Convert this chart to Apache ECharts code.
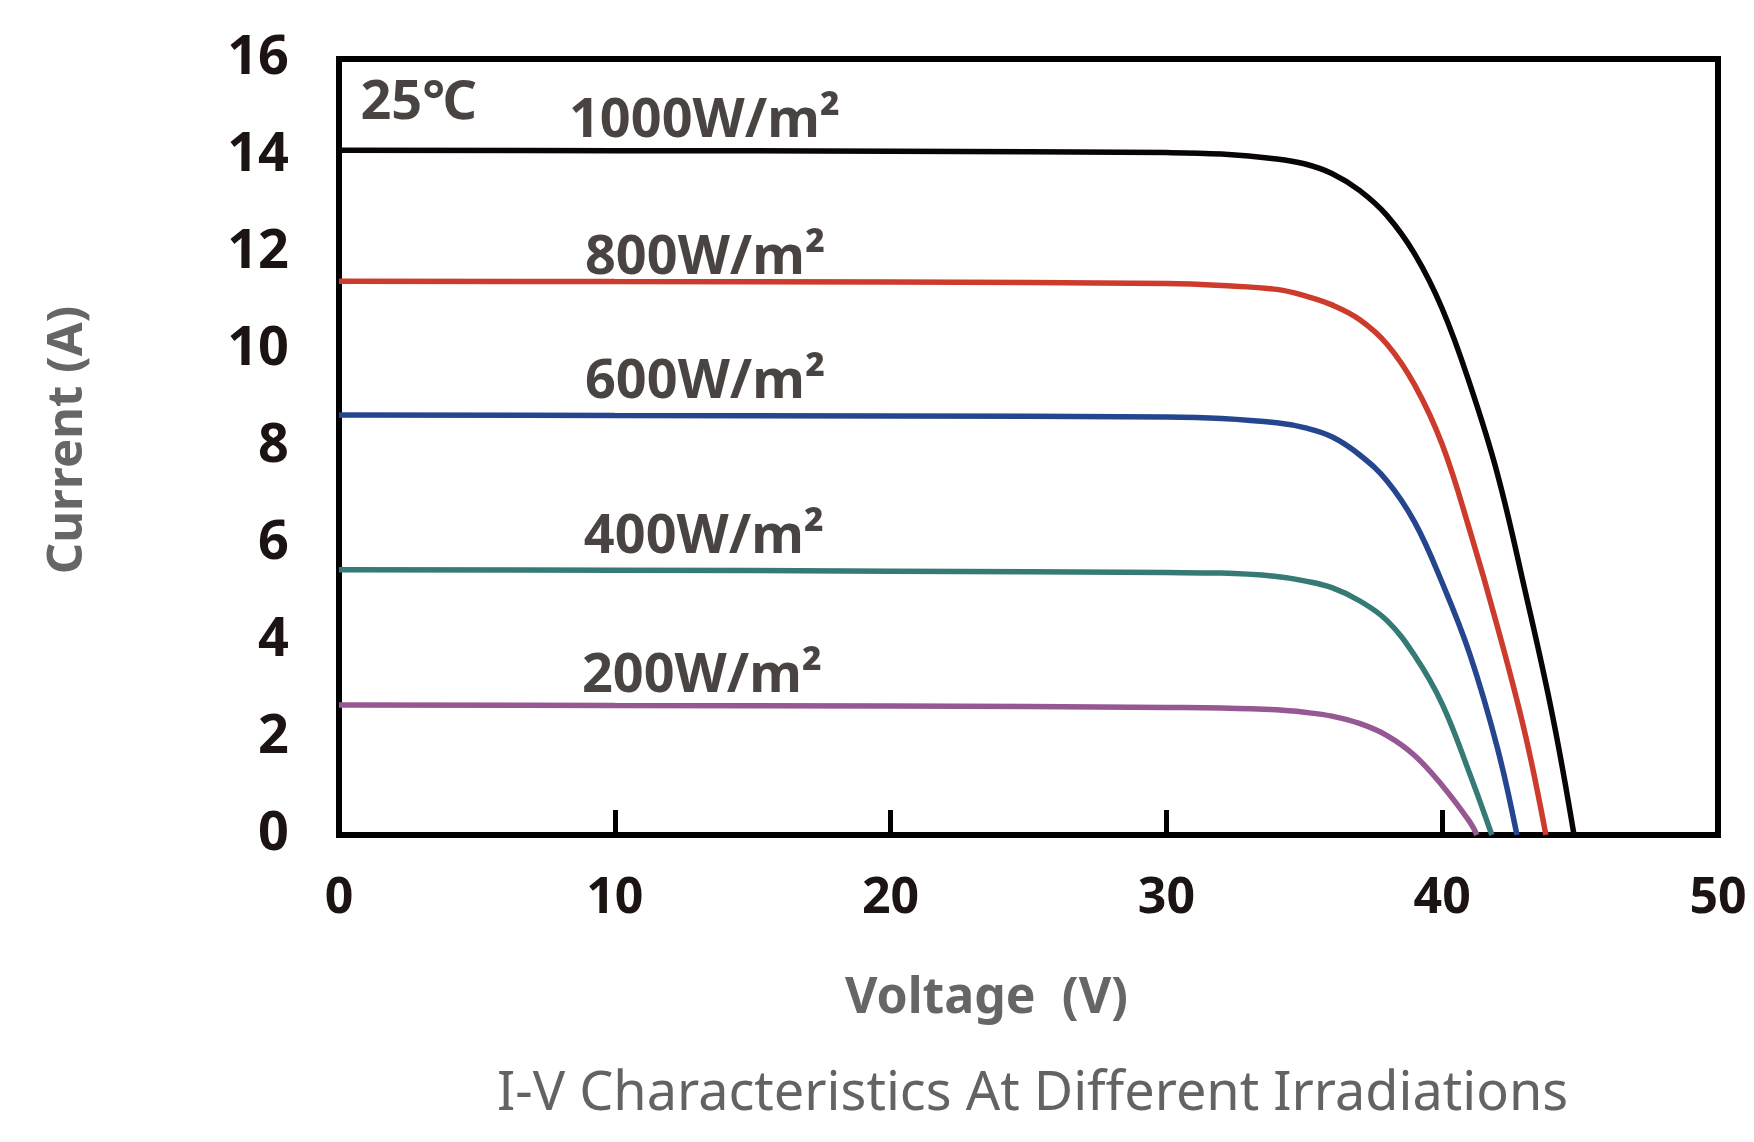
<!DOCTYPE html>
<html><head><meta charset="utf-8">
<script src="https://cdn.jsdelivr.net/npm/echarts@6/dist/echarts.min.js"></script>
<style>html,body{margin:0;padding:0;background:#fff}#c{width:1754px;height:1142px}</style>
</head><body><div id="c"></div>
<script>
// Axis ranges / ticks
const xMin = 0, xMax = 50, xStep = 10;
const yMin = 0, yMax = 16, yStep = 2;

// Series: voltage (V) and current (A)
const v1000 = [0, 10, 20, 30, 32, 34, 35, 36, 37, 38, 39, 40, 41, 42, 43, 44, 44.78];
const i1000 = [14.12, 14.11, 14.10, 14.07, 14.04, 13.94, 13.84, 13.64, 13.29, 12.77, 11.98, 10.85, 9.30, 7.45, 5.05, 2.46, 0];

const v800 = [0, 10, 20, 30, 32, 34, 35, 36, 37, 38, 39, 40, 41, 42, 43, 43.76];
const i800 = [11.42, 11.41, 11.40, 11.37, 11.33, 11.25, 11.12, 10.93, 10.63, 10.12, 9.28, 8.05, 6.28, 4.30, 2.10, 0];

const v600 = [0, 10, 20, 30, 32, 34, 35, 36, 37, 38, 39, 40, 41, 42, 42.71];
const i600 = [8.66, 8.65, 8.64, 8.62, 8.59, 8.50, 8.40, 8.21, 7.84, 7.30, 6.45, 5.20, 3.73, 1.80, 0];

const v400 = [0, 10, 20, 30, 32, 34, 35, 36, 37, 38, 39, 40, 41, 41.8];
const i400 = [5.47, 5.46, 5.44, 5.41, 5.40, 5.33, 5.24, 5.10, 4.83, 4.42, 3.70, 2.70, 1.26, 0];

const v200 = [0, 10, 20, 30, 32, 34, 35, 36, 37, 38, 39, 40, 41, 41.26];
const i200 = [2.68, 2.67, 2.66, 2.63, 2.62, 2.58, 2.53, 2.45, 2.30, 2.05, 1.64, 1.02, 0.27, 0];

// Annotations
const labelText = ['25℃', '1000W/m²', '800W/m²', '600W/m²', '400W/m²', '200W/m²'];
const labelV = [0.76, 8.32, 8.90, 8.90, 8.86, 8.79];
const labelI = [15.08, 14.71, 11.88, 9.32, 6.14, 3.26];

const seriesNames = ['1000W/m²', '800W/m²', '600W/m²', '400W/m²', '200W/m²'];
const seriesColors = ['#0a0505', '#cc3b2c', '#25468f', '#367a75', '#955893'];
const vs = [v1000, v800, v600, v400, v200];
const is = [i1000, i800, i600, i400, i200];

const zip = (a, b) => a.map((x, k) => [x, b[k]]);

const lineSeries = seriesNames.map((n, k) => ({
  name: n,
  type: 'line',
  data: zip(vs[k], is[k]),
  showSymbol: false,
  symbol: 'none',
  smooth: 0.4,
  lineStyle: { color: seriesColors[k], width: 5.5 },
  z: 3
}));

const labelSeries = {
  type: 'scatter',
  symbolSize: 1,
  itemStyle: { color: 'rgba(0,0,0,0)' },
  data: labelText.map((t, k) => ({ name: t, value: [labelV[k], labelI[k]] })),
  label: {
    show: true,
    position: 'right',
    distance: 0,
    formatter: p => p.name,
    color: '#1c1412',
    fontFamily: "'Noto Sans', 'Noto Sans CJK SC', sans-serif",
    fontWeight: 'bold',
    fontSize: 54
  },
  silent: true,
  z: 5
};

const chart = echarts.init(document.getElementById('c'), null, { renderer: 'canvas' });
chart.setOption({
  backgroundColor: '#ffffff',
  animation: false,
  title: {
    text: 'I-V Characteristics At Different Irradiations',
    left: 492,
    top: 1063,
    textStyle: {
      fontFamily: "'Noto Sans', sans-serif",
      fontWeight: 'normal',
      fontSize: 54,
      color: '#636363'
    }
  },
  grid: {
    left: 339, right: 36, top: 59, bottom: 307,
    show: true, borderColor: '#000', borderWidth: 6, backgroundColor: 'transparent'
  },
  xAxis: {
    type: 'value', min: xMin, max: xMax, interval: xStep,
    name: 'Voltage  (V)', nameLocation: 'middle', nameGap: 139,
    nameTextStyle: {
      fontFamily: "'Noto Sans', sans-serif", fontWeight: 'bold', fontSize: 50,
      color: '#666666', padding: [0, 84, 0, 0]
    },
    axisLine: { show: true, onZero: false, lineStyle: { color: '#000', width: 6 } },
    axisTick: { show: true, inside: true, length: 25, lineStyle: { color: '#000', width: 5 } },
    splitLine: { show: false },
    axisLabel: {
      margin: 39, color: '#1c1412', fontWeight: 'bold', fontSize: 50,
      fontFamily: "'Noto Sans', sans-serif"
    }
  },
  yAxis: {
    type: 'value', min: yMin, max: yMax, interval: yStep,
    name: 'Current (A)', nameLocation: 'middle', nameGap: 246, nameRotate: 90,
    nameTextStyle: {
      fontFamily: "'Noto Sans', sans-serif", fontWeight: 'bold', fontSize: 49,
      color: '#666666', padding: [0, 0, 0, 14]
    },
    axisLine: { show: true, onZero: false, lineStyle: { color: '#000', width: 6 } },
    axisTick: { show: false },
    splitLine: { show: false },
    axisLabel: {
      margin: 50, color: '#1c1412', fontWeight: 'bold', fontSize: 54,
      fontFamily: "'Noto Sans', sans-serif"
    }
  },
  series: [...lineSeries, labelSeries]
});
</script>
</body></html>
